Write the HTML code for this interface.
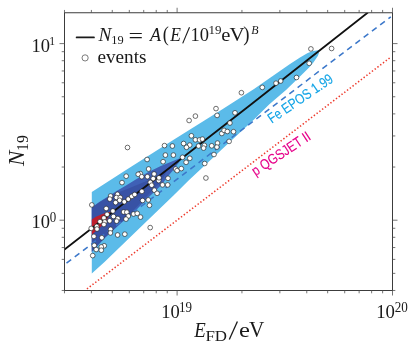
<!DOCTYPE html><html><head><meta charset="utf-8"><title>N19 vs E_FD</title>
<style>html,body{margin:0;padding:0;background:#fff;overflow:hidden}svg{display:block;will-change:transform}text{font-family:"Liberation Serif",serif;fill:#1a1a1a}.s{font-family:"Liberation Sans",sans-serif}</style></head><body>
<svg width="415" height="345" viewBox="0 0 415 345">
<rect width="415" height="345" fill="#fff"/>
<defs><clipPath id="c"><rect x="64.5" y="12.75" width="328.0" height="277.75"/></clipPath></defs>
<g clip-path="url(#c)">
<polygon points="91.8,192.0 126.0,170.0 174.0,139.5 206.0,119.5 222.0,109.6 254.0,89.0 290.0,64.0 300.0,57.5 307.7,53.0 313.0,51.0 318.6,50.3 319.0,53.0 317.8,56.0 313.4,62.5 309.1,67.5 300.0,76.5 286.0,90.0 269.1,104.5 254.0,119.5 222.0,149.3 209.5,161.0 189.1,180.0 174.0,195.0 148.0,220.0 134.0,233.6 104.5,262.0 91.8,273.5" fill="#5bbbe9"/>
<polygon points="91.8,207.3 100.0,201.4 108.0,196.5 117.0,190.8 126.0,185.5 137.0,178.7 148.0,172.2 160.8,166.0 173.7,160.7 178.5,158.8 180.3,158.4 179.5,161.4 173.7,169.4 167.0,177.5 161.4,185.0 155.5,190.8 149.4,196.5 141.0,205.0 132.9,213.4 126.0,219.0 122.0,222.3 113.0,230.5 104.0,238.8 96.5,247.1 91.8,252.0" fill="#3f60b6"/>
<polygon points="91.8,207.8 100.0,202.0 108.0,197.2 117.0,192.8 126.0,189.5 140.0,183.8 156.0,177.2 163.0,173.0 167.0,170.3 163.5,177.5 159.0,183.5 153.0,189.8 147.1,196.0 139.0,204.5 130.3,213.4 126.0,217.5 122.0,221.5 113.0,230.0 104.0,238.3 96.5,246.6 91.8,251.5" fill="#3852a5"/>
<polygon points="91.8,219.6 96.0,216.8 101.3,214.5 106.0,212.8 110.6,211.8 108.7,216.7 102.2,225.4 93.5,233.2 91.8,234.6" fill="#be1e2d"/>
<line x1="64.5" y1="264.6" x2="390.8" y2="16.79" stroke="#3c78ca" stroke-width="1.55" stroke-dasharray="5.85 4.516" stroke-dashoffset="7.866"/>
<line x1="86.94" y1="288.93" x2="391.0" y2="56.94" stroke="#ee3a2c" stroke-width="1.55" stroke-dasharray="1.4 2.08" stroke-dashoffset="0"/>
<polyline points="64.5,249.5 160,175.2 250,105.2 310,58 367.9,12.5" fill="none" stroke="#111" stroke-width="1.8" stroke-linejoin="round"/>
</g>
<g fill="#fff" stroke="#222" stroke-width="0.65">
<circle cx="140.3" cy="173.6" r="2.35"/>
<circle cx="122.0" cy="182.6" r="2.35"/>
<circle cx="91.2" cy="228.4" r="2.35"/>
<circle cx="96.7" cy="226.4" r="2.35"/>
<circle cx="97.0" cy="229.0" r="2.35"/>
<circle cx="93.9" cy="236.4" r="2.35"/>
<circle cx="101.8" cy="237.7" r="2.35"/>
<circle cx="110.6" cy="229.3" r="2.35"/>
<circle cx="110.4" cy="232.9" r="2.35"/>
<circle cx="117.6" cy="235.0" r="2.35"/>
<circle cx="124.8" cy="234.2" r="2.35"/>
<circle cx="94.3" cy="245.4" r="2.35"/>
<circle cx="104.2" cy="245.8" r="2.35"/>
<circle cx="101.3" cy="246.9" r="2.35"/>
<circle cx="96.2" cy="249.5" r="2.35"/>
<circle cx="101.3" cy="250.2" r="2.35"/>
<circle cx="92.7" cy="255.6" r="2.35"/>
<circle cx="106.2" cy="208.5" r="2.35"/>
<circle cx="112.9" cy="211.0" r="2.35"/>
<circle cx="107.1" cy="214.4" r="2.35"/>
<circle cx="103.9" cy="218.0" r="2.35"/>
<circle cx="100.0" cy="221.6" r="2.35"/>
<circle cx="104.8" cy="221.9" r="2.35"/>
<circle cx="103.9" cy="224.5" r="2.35"/>
<circle cx="109.7" cy="220.8" r="2.35"/>
<circle cx="113.5" cy="216.5" r="2.35"/>
<circle cx="117.8" cy="218.5" r="2.35"/>
<circle cx="116.6" cy="221.1" r="2.35"/>
<circle cx="123.6" cy="212.0" r="2.35"/>
<circle cx="126.8" cy="212.2" r="2.35"/>
<circle cx="128.3" cy="216.1" r="2.35"/>
<circle cx="126.0" cy="219.1" r="2.35"/>
<circle cx="133.5" cy="214.0" r="2.35"/>
<circle cx="91.8" cy="204.9" r="2.35"/>
<circle cx="110.6" cy="196.0" r="2.35"/>
<circle cx="109.8" cy="199.1" r="2.35"/>
<circle cx="117.5" cy="194.3" r="2.35"/>
<circle cx="116.4" cy="197.5" r="2.35"/>
<circle cx="120.2" cy="197.5" r="2.35"/>
<circle cx="119.6" cy="200.3" r="2.35"/>
<circle cx="115.6" cy="202.6" r="2.35"/>
<circle cx="124.3" cy="201.8" r="2.35"/>
<circle cx="128.3" cy="199.1" r="2.35"/>
<circle cx="131.8" cy="196.4" r="2.35"/>
<circle cx="141.9" cy="191.4" r="2.35"/>
<circle cx="134.7" cy="194.5" r="2.35"/>
<circle cx="150.3" cy="182.3" r="2.35"/>
<circle cx="151.7" cy="185.2" r="2.35"/>
<circle cx="154.4" cy="190.2" r="2.35"/>
<circle cx="157.1" cy="193.3" r="2.35"/>
<circle cx="162.5" cy="184.9" r="2.35"/>
<circle cx="167.7" cy="184.9" r="2.35"/>
<circle cx="158.7" cy="180.6" r="2.35"/>
<circle cx="142.6" cy="200.5" r="2.35"/>
<circle cx="148.3" cy="199.9" r="2.35"/>
<circle cx="149.5" cy="205.3" r="2.35"/>
<circle cx="137.2" cy="213.4" r="2.35"/>
<circle cx="140.5" cy="217.1" r="2.35"/>
<circle cx="127.5" cy="147.5" r="2.35"/>
<circle cx="164.5" cy="145.6" r="2.35"/>
<circle cx="172.4" cy="146.0" r="2.35"/>
<circle cx="165.4" cy="155.1" r="2.35"/>
<circle cx="173.4" cy="155.1" r="2.35"/>
<circle cx="147.1" cy="159.5" r="2.35"/>
<circle cx="163.1" cy="161.7" r="2.35"/>
<circle cx="148.6" cy="169.0" r="2.35"/>
<circle cx="154.1" cy="174.0" r="2.35"/>
<circle cx="138.2" cy="174.3" r="2.35"/>
<circle cx="141.7" cy="176.7" r="2.35"/>
<circle cx="147.4" cy="176.7" r="2.35"/>
<circle cx="126.2" cy="176.2" r="2.35"/>
<circle cx="153.2" cy="178.6" r="2.35"/>
<circle cx="159.0" cy="177.8" r="2.35"/>
<circle cx="168.0" cy="178.3" r="2.35"/>
<circle cx="182.5" cy="157.3" r="2.35"/>
<circle cx="189.8" cy="158.3" r="2.35"/>
<circle cx="186.1" cy="162.3" r="2.35"/>
<circle cx="175.6" cy="169.0" r="2.35"/>
<circle cx="177.1" cy="170.6" r="2.35"/>
<circle cx="181.3" cy="168.6" r="2.35"/>
<circle cx="189.1" cy="120.5" r="2.35"/>
<circle cx="195.4" cy="116.1" r="2.35"/>
<circle cx="216.0" cy="108.6" r="2.35"/>
<circle cx="217.1" cy="115.4" r="2.35"/>
<circle cx="191.4" cy="135.8" r="2.35"/>
<circle cx="195.4" cy="139.8" r="2.35"/>
<circle cx="199.5" cy="139.9" r="2.35"/>
<circle cx="202.4" cy="139.1" r="2.35"/>
<circle cx="221.8" cy="133.5" r="2.35"/>
<circle cx="183.6" cy="143.5" r="2.35"/>
<circle cx="189.7" cy="145.1" r="2.35"/>
<circle cx="186.5" cy="147.3" r="2.35"/>
<circle cx="198.5" cy="146.0" r="2.35"/>
<circle cx="204.4" cy="145.4" r="2.35"/>
<circle cx="203.6" cy="148.1" r="2.35"/>
<circle cx="211.7" cy="145.8" r="2.35"/>
<circle cx="217.5" cy="143.1" r="2.35"/>
<circle cx="216.9" cy="147.1" r="2.35"/>
<circle cx="214.0" cy="154.5" r="2.35"/>
<circle cx="204.7" cy="163.5" r="2.35"/>
<circle cx="205.9" cy="178.0" r="2.35"/>
<circle cx="241.4" cy="92.7" r="2.35"/>
<circle cx="235.0" cy="112.8" r="2.35"/>
<circle cx="229.9" cy="123.0" r="2.35"/>
<circle cx="224.1" cy="130.4" r="2.35"/>
<circle cx="227.3" cy="131.5" r="2.35"/>
<circle cx="233.5" cy="131.7" r="2.35"/>
<circle cx="229.1" cy="141.4" r="2.35"/>
<circle cx="262.3" cy="87.4" r="2.35"/>
<circle cx="276.0" cy="83.2" r="2.35"/>
<circle cx="280.7" cy="81.0" r="2.35"/>
<circle cx="296.5" cy="77.5" r="2.35"/>
<circle cx="309.2" cy="63.3" r="2.35"/>
<circle cx="310.9" cy="48.9" r="2.35"/>
<circle cx="331.6" cy="48.5" r="2.35"/>
<circle cx="150.2" cy="227.6" r="2.35"/>
</g>
<g stroke="#3c3c3c" stroke-width="1" fill="none">
<rect x="64.5" y="12.75" width="328.0" height="277.75"/>
</g>
<path d="M64.47 290.5v2.8M64.47 12.75v-2.8M91.38 290.5v2.8M91.38 12.75v-2.8M112.26 290.5v2.8M112.26 12.75v-2.8M129.31 290.5v2.8M129.31 12.75v-2.8M143.73 290.5v2.8M143.73 12.75v-2.8M156.23 290.5v2.8M156.23 12.75v-2.8M167.24 290.5v2.8M167.24 12.75v-2.8M241.94 290.5v2.8M241.94 12.75v-2.8M279.87 290.5v2.8M279.87 12.75v-2.8M306.78 290.5v2.8M306.78 12.75v-2.8M327.66 290.5v2.8M327.66 12.75v-2.8M344.71 290.5v2.8M344.71 12.75v-2.8M359.13 290.5v2.8M359.13 12.75v-2.8M371.63 290.5v2.8M371.63 12.75v-2.8M382.64 290.5v2.8M382.64 12.75v-2.8M177.10 290.5v5M177.10 12.75v-5M392.50 290.5v5M392.50 12.75v-5M64.5 290.48h-2.8M392.5 290.48h2.8M64.5 273.36h-2.8M392.5 273.36h2.8M64.5 259.38h-2.8M392.5 259.38h2.8M64.5 247.56h-2.8M392.5 247.56h2.8M64.5 237.31h-2.8M392.5 237.31h2.8M64.5 228.28h-2.8M392.5 228.28h2.8M64.5 167.04h-2.8M392.5 167.04h2.8M64.5 135.94h-2.8M392.5 135.94h2.8M64.5 113.88h-2.8M392.5 113.88h2.8M64.5 96.76h-2.8M392.5 96.76h2.8M64.5 82.78h-2.8M392.5 82.78h2.8M64.5 70.96h-2.8M392.5 70.96h2.8M64.5 60.71h-2.8M392.5 60.71h2.8M64.5 51.68h-2.8M392.5 51.68h2.8M64.5 220.20h-5M392.5 220.20h5M64.5 43.60h-5M392.5 43.60h5" stroke="#505050" stroke-width="0.8" fill="none"/>
<text transform="translate(98.40,40.80) scale(0.1930,0.1985)" font-size="100" font-style="italic">N</text>
<text transform="translate(111.18,43.57) scale(0.1241,0.1299)" font-size="100">19</text>
<text transform="translate(128.61,42.56) scale(0.2581,0.2080)" font-size="100">=</text>
<text transform="translate(149.89,40.80) scale(0.1806,0.1969)" font-size="100" font-style="italic">A</text>
<text transform="translate(162.83,40.53) scale(0.1824,0.2033)" font-size="100">(</text>
<text transform="translate(170.18,40.80) scale(0.1752,0.1939)" font-size="100" font-style="italic">E</text>
<line x1="182.7" y1="43.4" x2="189.5" y2="27.2" stroke="#1a1a1a" stroke-width="1.1"/>
<text transform="translate(190.53,40.81) scale(0.1851,0.1881)" font-size="100">10</text>
<text transform="translate(208.43,34.22) scale(0.1299,0.1336)" font-size="100">19</text>
<text transform="translate(221.18,40.82) scale(0.2054,0.1833)" font-size="100">e</text>
<text transform="translate(229.39,40.71) scale(0.2100,0.1940)" font-size="100">V</text>
<text transform="translate(243.23,40.63) scale(0.1885,0.2033)" font-size="100">)</text>
<text transform="translate(251.28,33.70) scale(0.1190,0.1313)" font-size="100" font-style="italic">B</text>
<text transform="translate(97.43,63.12) scale(0.1923,0.1842)" font-size="100">events</text>
<line x1="76.6" y1="37.4" x2="94" y2="37.4" stroke="#1a1a1a" stroke-width="1.7" stroke-linecap="round"/>
<circle cx="85.1" cy="57.9" r="3.1" fill="#fff" stroke="#444" stroke-width="0.7"/>
<text transform="translate(31.53,51.51) scale(0.1851,0.1867)" font-size="100">10</text>
<text transform="translate(49.35,45.00) scale(0.1171,0.1328)" font-size="100">1</text>
<text transform="translate(31.53,228.01) scale(0.1851,0.1867)" font-size="100">10</text>
<text transform="translate(49.68,221.51) scale(0.1298,0.1356)" font-size="100">0</text>
<text transform="translate(161.33,317.71) scale(0.1851,0.1852)" font-size="100">10</text>
<text transform="translate(179.03,311.51) scale(0.1299,0.1366)" font-size="100">19</text>
<text transform="translate(376.21,317.71) scale(0.1874,0.1852)" font-size="100">10</text>
<text transform="translate(394.71,311.51) scale(0.1311,0.1356)" font-size="100">20</text>
<text transform="translate(194.19,336.60) scale(0.1884,0.2198)" font-size="100" font-style="italic">E</text>
<text transform="translate(205.39,340.80) scale(0.1694,0.1557)" font-size="100">FD</text>
<line x1="229.3" y1="339.6" x2="237.4" y2="321.6" stroke="#1a1a1a" stroke-width="1.3"/>
<text transform="translate(238.92,337.19) scale(0.2459,0.2125)" font-size="100">e</text>
<text transform="translate(248.99,337.06) scale(0.2129,0.2286)" font-size="100">V</text>
<g transform="rotate(-90)">
<text transform="translate(-166.08,24.30) scale(0.2308,0.2308)" font-size="100" font-style="italic">N</text>
<text transform="translate(-150.92,28.04) scale(0.1575,0.1642)" font-size="100">19</text>
</g>

<text class="s" transform="translate(271.8,123.8) rotate(-34.3)" font-size="14.4" style="fill:#12a4e6;stroke:#12a4e6;stroke-width:0.12" textLength="75.5" lengthAdjust="spacingAndGlyphs">Fe EPOS 1.99</text>
<text class="s" transform="translate(255.4,176.2) rotate(-33.5)" font-size="14.4" style="fill:#e6008a;stroke:#e6008a;stroke-width:0.1" textLength="67.5" lengthAdjust="spacingAndGlyphs">p QGSJET II</text>

</svg></body></html>
